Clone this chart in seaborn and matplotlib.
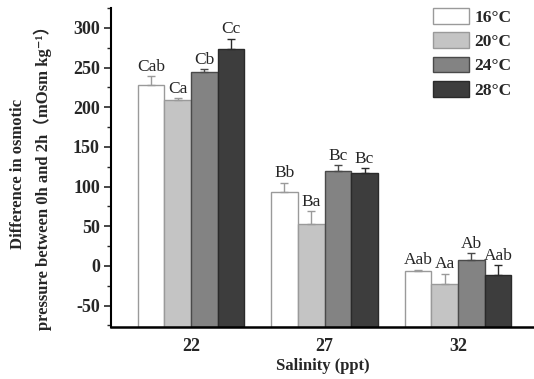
import numpy as np
import pandas as pd
import matplotlib
matplotlib.use("Agg")
import matplotlib.pyplot as plt
import seaborn as sns
from matplotlib.ticker import MultipleLocator

salinity = ["22", "27", "32"]
temps = ["16°C", "20°C", "24°C", "28°C"]
# mean difference per temperature, one value per salinity
means = {
    "16°C": [228, 93, -7],
    "20°C": [209, 53, -23],
    "24°C": [244, 120, 8],
    "28°C": [273, 117, -11],
}
errs = {
    "16°C": [11, 12, 2],
    "20°C": [2, 16, 13],
    "24°C": [4, 7, 8],
    "28°C": [13, 6, 12],
}
letters = {
    "16°C": ["Cab", "Bb", "Aab"],
    "20°C": ["Ca", "Ba", "Aa"],
    "24°C": ["Cb", "Bc", "Ab"],
    "28°C": ["Cc", "Bc", "Aab"],
}

fills = ["#ffffff", "#c4c4c4", "#838383", "#3d3d3d"]
edges = ["#9a9a9a", "#9a9a9a", "#4a4a4a", "#2a2a2a"]

rows = []
for t in temps:
    for s, v in zip(salinity, means[t]):
        rows.append({"Salinity": s, "Temp": t, "Value": v})
df = pd.DataFrame(rows)

sns.set_style("ticks")
serif = ["Liberation Serif", "Noto Sans CJK SC", "DejaVu Serif"]
plt.rcParams["font.family"] = serif
plt.rcParams["axes.unicode_minus"] = False

fig = plt.figure(figsize=(5.34, 3.79), dpi=100)
ax = fig.add_axes([111 / 534, 1 - 327 / 379, 1 - 111 / 534, 319 / 379])

ymin, ymax = -77, 325
sns.barplot(data=df, x="Salinity", y="Value", hue="Temp", order=salinity,
            hue_order=temps, palette=fills, errorbar=None, width=0.8,
            ax=ax, legend=True)

# Origin-style bars grow from the bottom of the axis
for i, (t, cont) in enumerate(zip(temps, ax.containers)):
    xs = []
    for bar, v in zip(cont, means[t]):
        bar.set_y(ymin)
        bar.set_height(v - ymin)
        bar.set_edgecolor(edges[i])
        bar.set_linewidth(1.0)
        xs.append(bar.get_x() + bar.get_width() / 2)
    xs = np.array(xs)
    e = np.array(errs[t])
    ax.errorbar(xs, means[t], yerr=[np.zeros_like(e), e], fmt="none",
                ecolor=edges[i], elinewidth=1.0, capsize=3, capthick=1.0,
                zorder=3)
    for x, v, er, lab in zip(xs, means[t], e, letters[t]):
        ax.text(x, v + er + 2, lab, ha="center", va="bottom", fontsize=12.5,
                family=serif)

ax.set_ylim(ymin, ymax)
ax.set_xlim(-0.6, 2.57)
ax.yaxis.set_major_locator(MultipleLocator(50))
ax.yaxis.set_minor_locator(MultipleLocator(25))
ax.set_yticks(np.arange(-50, 301, 50))
ax.tick_params(axis="y", which="major", direction="out", length=5, width=1.2,
               labelsize=13, pad=3)
ax.tick_params(axis="y", which="minor", direction="out", length=3, width=1.0)
ax.tick_params(axis="x", length=0, labelsize=13, pad=8)
for lab in ax.get_xticklabels() + ax.get_yticklabels():
    lab.set_fontweight("bold")

sns.despine(ax=ax, top=True, right=True)
ax.spines["left"].set_linewidth(1.5)
ax.spines["bottom"].set_linewidth(1.8)
ax.spines["left"].set_color("black")
ax.spines["bottom"].set_color("black")

ax.set_xlabel("Salinity (ppt)", fontsize=12, fontweight="bold", labelpad=2)
ax.set_ylabel("Difference in osmotic\npressure between 0h and 2h（mOsm kg⁻¹）",
              fontsize=12, fontweight="bold", linespacing=1.5)
ax.yaxis.set_label_coords(-0.14, 0.48)

handles, labels = ax.get_legend_handles_labels()
for h, ec in zip(handles, edges):
    h.set_edgecolor(ec)
ax.legend(handles, labels, loc="upper right", frameon=False,
          bbox_to_anchor=(524 / 534, 1 + 4 / 379),
          bbox_transform=fig.transFigure,
          prop={"family": serif, "weight": "bold", "size": 12.5},
          handlelength=2.1, handleheight=1.0, labelspacing=0.38,
          handletextpad=0.3, borderpad=0.2)

fig.savefig("out.png", dpi=100)
